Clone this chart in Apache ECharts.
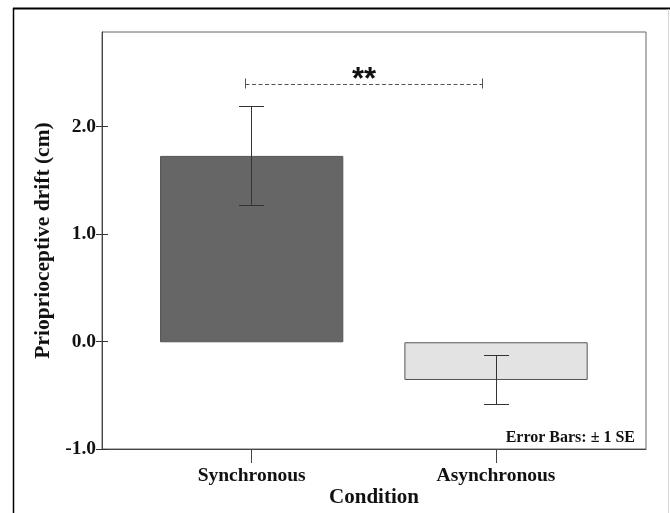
<!DOCTYPE html>
<html>
<head>
<meta charset="utf-8">
<script src="https://cdn.jsdelivr.net/npm/echarts@6/dist/echarts.min.js"></script>
<style>html,body{margin:0;padding:0;background:#fff}#c{width:670px;height:513px}</style>
</head>
<body>
<div id="c"></div>
<script>
const categories = ['Synchronous', 'Asynchronous'];
const means = [1.73, -0.35];
const seLow = [1.27, -0.58];
const seHigh = [2.19, -0.12];
const barColors = ['#666666', '#e3e3e3'];
const yMin = -1.0, yMax = 2.88, yStep = 1.0;
const yTicks = [-1.0, 0.0, 1.0, 2.0];
const sigY = 2.39;
const sigLabel = '**';
const errorNote = 'Error Bars: \u00b1 1 SE';
const yTitle = 'Prioprioceptive drift (cm)';
const xTitle = 'Condition';

const SERIF = "'Liberation Serif', 'Times New Roman', serif";
const chart = echarts.init(document.getElementById('c'), null, {renderer: 'canvas'});
const px = v => Math.round(v - 0.5) + 0.5;

chart.setOption({
  animation: false,
  backgroundColor: '#fff',
  title: {
    text: errorNote, right: 35, top: 430, padding: 0,
    textStyle: {fontFamily: SERIF, fontWeight: 'bold', fontSize: 16, color: '#111'}
  },
  graphic: [
    {type: 'line', shape: {x1: 13, y1: 8.5, x2: 670, y2: 8.5}, style: {stroke: '#000', lineWidth: 2}},
    {type: 'line', shape: {x1: 13.5, y1: 8, x2: 13.5, y2: 513}, style: {stroke: '#000', lineWidth: 1.5}},
    {type: 'line', shape: {x1: 668.5, y1: 9, x2: 668.5, y2: 513}, style: {stroke: '#d8d8d8', lineWidth: 1}}
  ],
  grid: [
    {left: 102, right: 24, top: 32, bottom: 63, show: true, borderColor: '#666', borderWidth: 1, backgroundColor: 'transparent'},
    {left: 129.5, right: 51.8, top: 32, bottom: 63}
  ],
  xAxis: [
    {gridIndex: 0, type: 'value', min: 0, max: 1, position: 'bottom',
     axisLine: {show: true, onZero: false, lineStyle: {color: '#444', width: 1}},
     axisTick: {show: false}, axisLabel: {show: false}, splitLine: {show: false},
     name: xTitle, nameLocation: 'middle', nameGap: 38,
     nameTextStyle: {fontFamily: SERIF, fontWeight: 'bold', fontSize: 21, color: '#111'}},
    {gridIndex: 1, type: 'category', data: categories, position: 'bottom',
     axisLine: {show: false, onZero: false},
     axisTick: {show: true, alignWithLabel: true, length: 13, lineStyle: {color: '#444'}},
     axisLabel: {margin: 16, fontFamily: SERIF, fontWeight: 'bold', fontSize: 19.5, color: '#111'},
     splitLine: {show: false}}
  ],
  yAxis: [
    {gridIndex: 0, type: 'value', min: yMin, max: yMax, interval: yStep,
     axisLine: {show: true, onZero: false, lineStyle: {color: '#444', width: 1}},
     axisTick: {show: true, length: 6, customValues: yTicks, lineStyle: {color: '#333'}},
     axisLabel: {margin: 6, fontFamily: SERIF, fontWeight: 'bold', fontSize: 19.5, color: '#111',
                 customValues: yTicks, formatter: v => Number(v).toFixed(1)},
     splitLine: {show: false},
     name: yTitle, nameLocation: 'middle', nameGap: 46, nameRotate: 90,
     nameTextStyle: {fontFamily: SERIF, fontWeight: 'bold', fontSize: 21.5, color: '#111'}},
    {gridIndex: 0, type: 'value', min: yMin, max: yMax, interval: yStep, position: 'left',
     axisLine: {show: false, onZero: false},
     axisTick: {show: true, inside: true, length: 6, customValues: yTicks, lineStyle: {color: '#333'}},
     axisLabel: {show: false}, splitLine: {show: false}},
    {gridIndex: 1, type: 'value', min: yMin, max: yMax, interval: yStep, show: false}
  ],
  series: [
    {type: 'bar', xAxisIndex: 1, yAxisIndex: 2, barWidth: '75%',
     data: means.map((v, i) => ({value: v, itemStyle: {color: barColors[i]}})),
     itemStyle: {borderColor: '#555', borderWidth: 1}, z: 2},
    {type: 'custom', xAxisIndex: 1, yAxisIndex: 2, z: 3,
     encode: {x: 0, y: [1, 2]},
     data: categories.map((c, i) => [i, seLow[i], seHigh[i]]),
     renderItem: (params, api) => {
       const i = api.value(0);
       const lo = api.coord([i, api.value(1)]);
       const hi = api.coord([i, api.value(2)]);
       const x = px(lo[0]);
       const w = 12.5;
       const st = {stroke: '#333', lineWidth: 1};
       return {type: 'group', children: [
         {type: 'line', shape: {x1: x, y1: px(hi[1]), x2: x, y2: px(lo[1])}, style: st},
         {type: 'line', shape: {x1: x - w, y1: px(hi[1]), x2: x + w, y2: px(hi[1])}, style: st},
         {type: 'line', shape: {x1: x - w, y1: px(lo[1]), x2: x + w, y2: px(lo[1])}, style: st}
       ]};
     }},
    {type: 'custom', xAxisIndex: 1, yAxisIndex: 2, z: 4,
     encode: {x: [0, 1], y: 2},
     data: [[0, 1, sigY]],
     renderItem: (params, api) => {
       const a = api.coord([api.value(0), api.value(2)]);
       const b = api.coord([api.value(1), api.value(2)]);
       const x0 = px(a[0] - 6), x1 = px(b[0] - 14), y = px(a[1]);
       const st = {stroke: '#555', lineWidth: 1};
       return {type: 'group', children: [
         {type: 'line', shape: {x1: x0, y1: y, x2: x1, y2: y}, style: {stroke: '#555', lineWidth: 1, lineDash: [4, 2.5]}},
         {type: 'line', shape: {x1: x0, y1: y - 6, x2: x0, y2: y + 4}, style: st},
         {type: 'line', shape: {x1: x1, y1: y - 6, x2: x1, y2: y + 4}, style: st},
         {type: 'text', x: (x0 + x1) / 2, y: y - 4,
          style: {text: sigLabel, fill: '#111', font: "bold 31px 'Liberation Sans', Arial, sans-serif",
                  align: 'center', verticalAlign: 'middle'}}
       ]};
     }}
  ]
});
</script>
</body>
</html>
